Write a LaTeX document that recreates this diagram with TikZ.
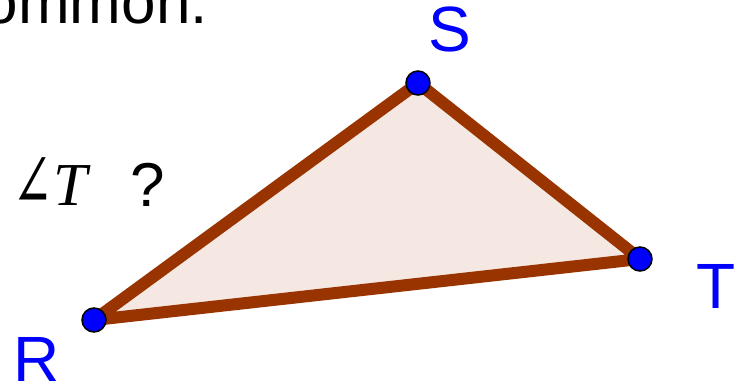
\documentclass[tikz,border=0pt]{standalone}
\usepackage{fontspec}
\usepackage{graphicx}
\setmainfont{Liberation Sans}
\newfontfamily\serifit{Liberation Serif}
\newfontfamily\symfont{DejaVu Serif}
\definecolor{edgebrown}{HTML}{993300}
\definecolor{fillpink}{HTML}{F5E8E3}
\begin{document}
\begin{tikzpicture}[x=1pt,y=-1pt,
  vtx/.style={circle,fill=blue,draw=black,line width=1.5pt,inner sep=0pt,minimum size=24pt},
  lbl/.style={text=blue,font=\fontsize{64}{64}\selectfont,inner sep=0pt},
  txt/.style={text=black,font=\fontsize{62}{62}\selectfont,inner sep=0pt}]
\useasboundingbox (0,0) rectangle (753,386);
\begin{scope}
\clip (0,0) rectangle (753,386);
\node[txt,anchor=base east] (top) at (208,23) {ommon.};
\end{scope}
\node[inner sep=0pt,anchor=base west] (ang) at (12,207) {\scalebox{0.66}[1.02]{\fontsize{74}{74}\selectfont\symfont ∠}};
\node[inner sep=0pt,anchor=base west] (tt) at (53,205) {\fontsize{61}{61}\selectfont\serifit\itshape T};
\node[txt,anchor=base west] (q) at (130,206) {?};
\coordinate (R) at (94,320);
\coordinate (S) at (418,83);
\coordinate (T) at (640,259);
\fill[fillpink] (R) -- (S) -- (T) -- cycle;
\draw[edgebrown,line width=12pt,line join=round] (R) -- (S) -- (T) -- cycle;
\node[vtx] (r) at (R) {};
\node[vtx] (s) at (S) {};
\node[vtx] (t) at (T) {};
\node[lbl,anchor=base west] (ls) at (428,51) {S};
\node[lbl,anchor=base west] (lt) at (696,308) {T};
\node[lbl,anchor=base west] (lr) at (13,381) {R};
\end{tikzpicture}
\end{document}
